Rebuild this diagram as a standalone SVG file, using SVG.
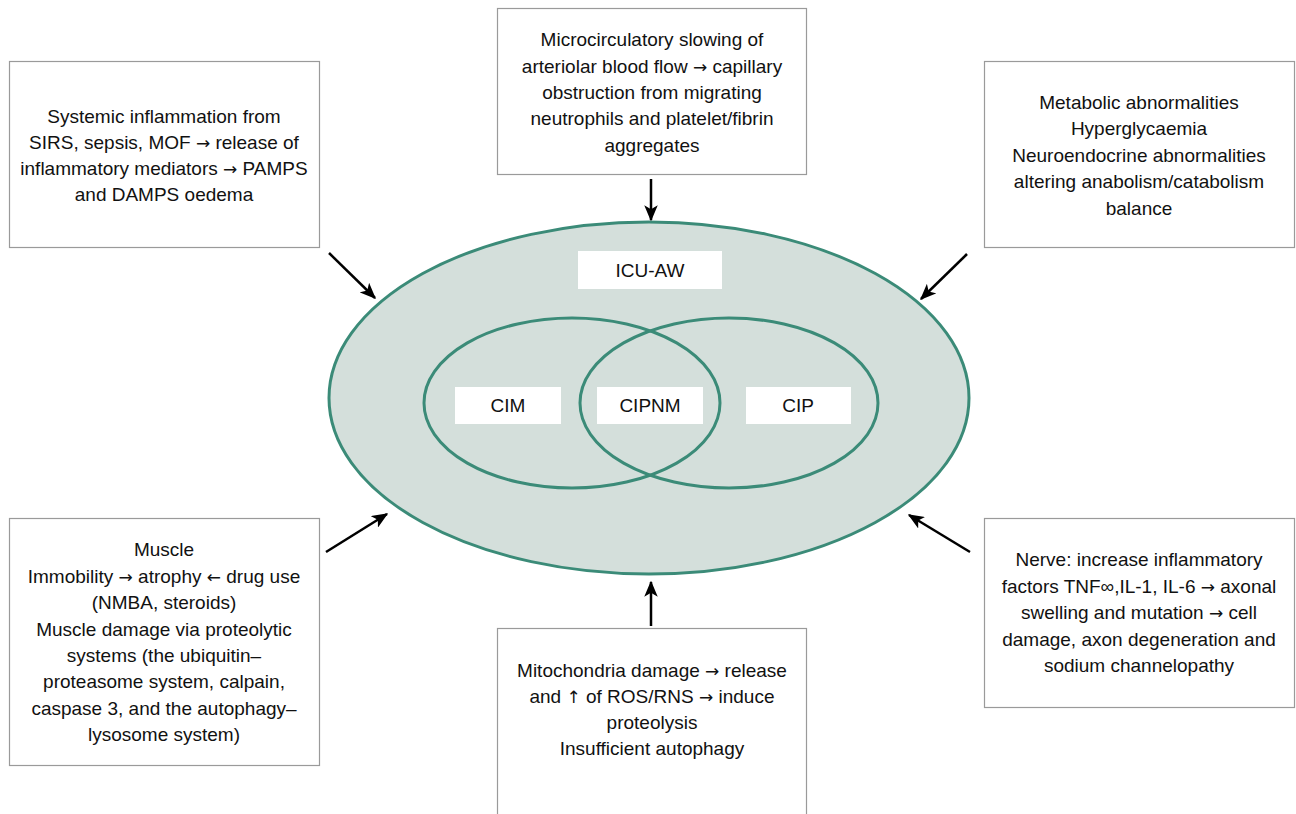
<svg xmlns="http://www.w3.org/2000/svg" width="1296" height="814" viewBox="0 0 1296 814">
<style>
.box{fill:#fff;stroke:#9a9a9a;stroke-width:1.2}
.t{font-family:"Liberation Sans",Arial,sans-serif;font-size:19px;fill:#111;text-anchor:middle}
.a{font-family:"DejaVu Sans",sans-serif;font-size:17px}
.lbl{fill:#fff;stroke:none}
.ring{fill:none;stroke:#3b8b78;stroke-width:3}
.arr{stroke:#000;stroke-width:2.5;fill:none;marker-end:url(#ah)}
</style>
<defs>
<marker id="ah" viewBox="0 0 12 10" refX="11" refY="5" markerWidth="6.5" markerHeight="5.4" markerUnits="strokeWidth" orient="auto">
<path d="M0,0 L12,5 L0,10 L3,5 Z" fill="#000"/>
</marker>
</defs>
<rect width="1296" height="814" fill="#fff"/>
<g id="venn">
<ellipse cx="649" cy="398" rx="320" ry="176" fill="#d4dfdb" stroke="#3b8b78" stroke-width="3"/>
<ellipse class="ring" cx="572" cy="403" rx="148" ry="85"/>
<ellipse class="ring" cx="729" cy="403" rx="149" ry="85"/>
</g>
<g id="icuaw"><rect class="lbl" x="578" y="251" width="144" height="38"/><text class="t" x="650" y="277">ICU-AW</text></g>
<g id="cim"><rect class="lbl" x="455" y="387" width="106" height="37"/><text class="t" x="508" y="412">CIM</text></g>
<g id="cipnm"><rect class="lbl" x="597" y="387" width="106" height="37"/><text class="t" x="650" y="412">CIPNM</text></g>
<g id="cip"><rect class="lbl" x="746" y="387" width="105" height="37"/><text class="t" x="798" y="412">CIP</text></g>
<g id="systemic">
<rect class="box" x="9.5" y="61.5" width="310" height="186"/>
<text class="t"><tspan x="164" y="123">Systemic inflammation from</tspan><tspan x="164" y="149">SIRS, sepsis, MOF <tspan class="a">→</tspan> release of</tspan><tspan x="164" y="175">inflammatory mediators <tspan class="a">→</tspan> PAMPS</tspan><tspan x="164" y="201">and DAMPS oedema</tspan></text>
</g>
<g id="microcirc">
<rect class="box" x="497.5" y="8.5" width="309" height="166"/>
<text class="t"><tspan x="652" y="46">Microcirculatory slowing of</tspan><tspan x="652" y="73">arteriolar blood flow <tspan class="a">→</tspan> capillary</tspan><tspan x="652" y="99">obstruction from migrating</tspan><tspan x="652" y="125">neutrophils and platelet/fibrin</tspan><tspan x="652" y="152">aggregates</tspan></text>
</g>
<g id="metabolic">
<rect class="box" x="984.5" y="61.5" width="310" height="186"/>
<text class="t"><tspan x="1139" y="109">Metabolic abnormalities</tspan><tspan x="1139" y="135">Hyperglycaemia</tspan><tspan x="1139" y="162">Neuroendocrine abnormalities</tspan><tspan x="1139" y="188">altering anabolism/catabolism</tspan><tspan x="1139" y="215">balance</tspan></text>
</g>
<g id="muscle">
<rect class="box" x="9.5" y="518.5" width="310" height="247"/>
<text class="t"><tspan x="164" y="556">Muscle</tspan><tspan x="164" y="583">Immobility <tspan class="a">→</tspan> atrophy <tspan class="a">←</tspan> drug use</tspan><tspan x="164" y="609">(NMBA, steroids)</tspan><tspan x="164" y="636">Muscle damage via proteolytic</tspan><tspan x="164" y="662">systems (the ubiquitin–</tspan><tspan x="164" y="688">proteasome system, calpain,</tspan><tspan x="164" y="715">caspase 3, and the autophagy–</tspan><tspan x="164" y="741">lysosome system)</tspan></text>
</g>
<g id="mito">
<rect class="box" x="497.5" y="628.5" width="309" height="200"/>
<text class="t"><tspan x="652" y="677">Mitochondria damage <tspan class="a">→</tspan> release</tspan><tspan x="652" y="703">and <tspan class="a">↑</tspan> of ROS/RNS <tspan class="a">→</tspan> induce</tspan><tspan x="652" y="729">proteolysis</tspan><tspan x="652" y="755">Insufficient autophagy</tspan></text>
</g>
<g id="nerve">
<rect class="box" x="984.5" y="518.5" width="310" height="189"/>
<text class="t"><tspan x="1139" y="566">Nerve: increase inflammatory</tspan><tspan x="1139" y="593">factors TNF∞,IL-1, IL-6 <tspan class="a">→</tspan> axonal</tspan><tspan x="1139" y="619">swelling and mutation <tspan class="a">→</tspan> cell</tspan><tspan x="1139" y="646">damage, axon degeneration and</tspan><tspan x="1139" y="672">sodium channelopathy</tspan></text>
</g>
<g id="connectors">
<line class="arr" x1="329" y1="253" x2="375" y2="298"/>
<line class="arr" x1="651" y1="179" x2="651" y2="220"/>
<line class="arr" x1="967" y1="254" x2="921" y2="299"/>
<line class="arr" x1="326" y1="552" x2="387" y2="514"/>
<line class="arr" x1="651" y1="626" x2="651" y2="582"/>
<line class="arr" x1="970" y1="552" x2="909" y2="515"/>
</g>
</svg>
